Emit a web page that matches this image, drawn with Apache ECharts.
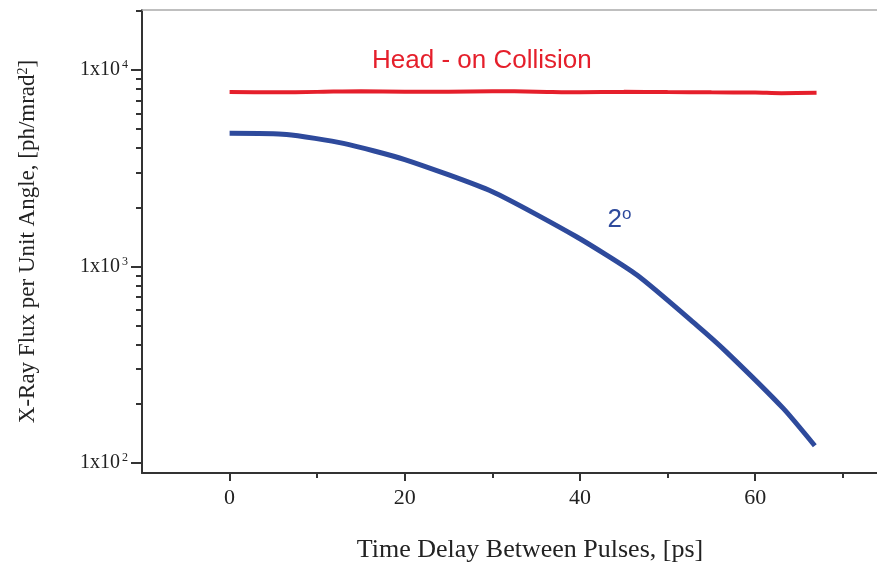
<!DOCTYPE html>
<html>
<head>
<meta charset="utf-8">
<script src="https://cdn.jsdelivr.net/npm/echarts@6/dist/echarts.min.js"></script>
<style>html,body{margin:0;padding:0;background:#fff}#c{width:877px;height:562px}</style>
</head>
<body>
<div id="c"></div>
<script>
// Data
const headOnT    = [0, 5, 10, 15, 20, 25, 30, 35, 40, 45, 50, 55, 60, 63, 67];
const headOnFlux = [7720, 7700, 7740, 7800, 7760, 7760, 7800, 7760, 7700, 7740, 7720, 7700, 7680, 7620, 7650];
const angle2T    = [0, 6.5, 13, 20, 30, 39.6, 46.5, 53.3, 56.7, 63.2, 66.8];
const angle2Flux = [4760, 4700, 4230, 3500, 2400, 1415, 903, 502, 367, 189, 122];
const xMajorTicks = [0, 20, 40, 60];
const xMinorTicks = [10, 30, 50, 70];
const yMajorTicks = [100, 1000, 10000];
const yMinorTicks = [200, 300, 400, 500, 600, 700, 800, 900, 2000, 3000, 4000, 5000, 6000, 7000, 8000, 9000, 20000];

const serif = 'Liberation Serif';
const sans = 'Liberation Sans';
const axisColor = '#333';

const chart = echarts.init(document.getElementById('c'), null, {renderer: 'canvas'});
const xRange = {min: -10, max: 73.9};
const yRange = {min: 88.6, max: 20220};

chart.setOption({
  animation: false,
  backgroundColor: '#fff',
  title: {
    text: 'Time Delay Between Pulses, [ps]',
    left: 525, top: 532, textAlign: 'center',
    textStyle: {fontFamily: serif, fontSize: 26, fontWeight: 'normal', color: '#222'}
  },
  grid: {left: 142, right: 0, top: 10, bottom: 89, containLabel: false},
  xAxis: [
    {
      type: 'value', position: 'bottom', ...xRange,
      axisLine: {show: true, onZero: false, lineStyle: {color: axisColor, width: 2}},
      axisTick: {show: true, customValues: xMinorTicks, length: 5, lineStyle: {color: axisColor, width: 2}},
      axisLabel: {show: false},
      splitLine: {show: false}
    },
    {
      type: 'value', position: 'bottom', ...xRange,
      axisLine: {show: false, onZero: false},
      axisTick: {show: true, customValues: xMajorTicks, length: 8, lineStyle: {color: axisColor, width: 2}},
      axisLabel: {show: true, customValues: xMajorTicks, margin: 14,
        fontFamily: serif, fontSize: 22, color: '#222'},
      splitLine: {show: false}
    },
    {
      type: 'value', position: 'top', ...xRange,
      axisLine: {show: true, onZero: false, lineStyle: {color: '#aaa', width: 1.5}},
      axisTick: {show: false}, axisLabel: {show: false}, splitLine: {show: false}
    }
  ],
  yAxis: [
    {
      type: 'log', logBase: 10, position: 'left', ...yRange,
      name: '{a|X-Ray Flux per Unit Angle, [ph/mrad}{s|2}{a|]}',
      nameLocation: 'middle', nameGap: 102,
      nameTextStyle: {
        rich: {
          a: {fontFamily: serif, fontSize: 23, color: '#222'},
          s: {fontFamily: serif, fontSize: 14, color: '#222', verticalAlign: 'top', padding: [0, 0, 10, 0]}
        }
      },
      axisLine: {show: true, onZero: false, lineStyle: {color: axisColor, width: 2}},
      axisTick: {show: true, customValues: yMajorTicks, length: 11, lineStyle: {color: axisColor, width: 2}},
      axisLabel: {
        show: true, customValues: yMajorTicks, margin: 14,
        formatter: v => '{b|1x10}{s|' + Math.round(Math.log10(v)) + '}',
        rich: {
          b: {fontFamily: serif, fontSize: 20, color: '#222'},
          s: {fontFamily: serif, fontSize: 12, color: '#222', verticalAlign: 'top', padding: [0, 0, 10, 2]}
        }
      },
      splitLine: {show: false}
    },
    {
      type: 'log', logBase: 10, position: 'left', ...yRange,
      axisLine: {show: false, onZero: false},
      axisTick: {show: true, customValues: yMinorTicks, length: 6, lineStyle: {color: axisColor, width: 2}},
      axisLabel: {show: false},
      splitLine: {show: false}
    }
  ],
  series: [
    {
      name: 'Head - on Collision', type: 'line', xAxisIndex: 0, yAxisIndex: 0,
      data: headOnT.map((t, i) => [t, headOnFlux[i]]),
      showSymbol: false, smooth: 0.3,
      lineStyle: {color: '#e51f2b', width: 4}
    },
    {
      name: '2°', type: 'line', xAxisIndex: 0, yAxisIndex: 0,
      data: angle2T.map((t, i) => [t, angle2Flux[i]]),
      showSymbol: false, smooth: 0.2,
      lineStyle: {color: '#2e4a9c', width: 5}
    }
  ]
});

// annotations placed in data coordinates
const pHead = chart.convertToPixel({xAxisIndex: 0, yAxisIndex: 0}, [28.8, 11120]);
const p2 = chart.convertToPixel({xAxisIndex: 0, yAxisIndex: 0}, [44.5, 1722]);
chart.setOption({
  graphic: [
    {type: 'text', x: pHead[0], y: pHead[1],
      style: {text: 'Head - on Collision', fill: '#e51f2b', font: '26px "Liberation Sans"', align: 'center', verticalAlign: 'middle'}},
    {type: 'text', x: p2[0], y: p2[1],
      style: {text: '{n|2}{o|o}', fill: '#2e4a9c', align: 'center', verticalAlign: 'middle',
        rich: {n: {fontFamily: sans, fontSize: 26, fill: '#2e4a9c'}, o: {fontFamily: sans, fontSize: 17, fill: '#2e4a9c', verticalAlign: 'top', padding: [0, 0, 12, 0]}}}}
  ]
});
</script>
</body>
</html>
